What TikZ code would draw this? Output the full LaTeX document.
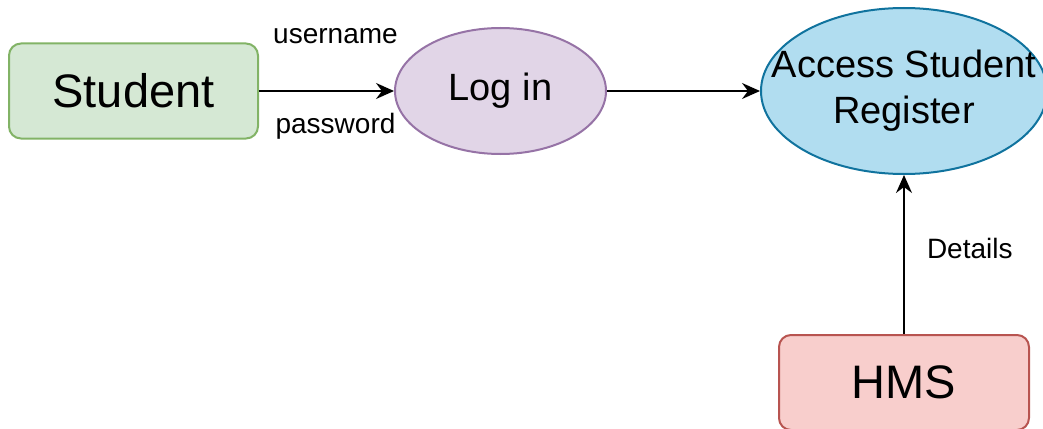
\documentclass[tikz,border=0pt]{standalone}
\usepackage{fontspec}
\setmainfont{Liberation Sans}
\usepackage{tikz}
\usetikzlibrary{arrows.meta, positioning, shapes.geometric}

\definecolor{studentfill}{HTML}{D5E8D4}
\definecolor{studentline}{HTML}{82B366}
\definecolor{loginfill}{HTML}{E1D5E7}
\definecolor{loginline}{HTML}{9673A6}
\definecolor{accessfill}{HTML}{B1DDF0}
\definecolor{accessline}{HTML}{10739E}
\definecolor{hmsfill}{HTML}{F8CECC}
\definecolor{hmsline}{HTML}{B85450}

\begin{document}
\begin{tikzpicture}[x=1pt, y=-1pt,
    entity/.style={draw, rectangle, rounded corners=12pt, line width=2pt, minimum width=249pt, minimum height=95pt, inner sep=0pt, font=\fontsize{47}{56}\selectfont},
    process/.style={draw, ellipse, line width=2pt, inner sep=0pt, font=\fontsize{38}{46}\selectfont},
    flowlabel/.style={inner sep=0pt, font=\fontsize{28}{34}\selectfont},
    flow/.style={-{Stealth[length=18pt, width=16pt, inset=6pt]}, line width=2pt}]
                \useasboundingbox (0,0) rectangle (1043,428);
                % Nodes
                \node (student) [entity, fill=studentfill, draw=studentline] at (133.5,91) {Student};
                \node (login) [process, fill=loginfill, draw=loginline, minimum width=211pt, minimum height=126pt, right=135pt of student] {Log in};
                \node (access) [process, fill=accessfill, draw=accessline, minimum width=286pt, minimum height=166pt, right=153pt of login,
                    label={[font=\fontsize{38}{46}\selectfont, align=center]center:Access Student\\Register}] {};
                \node (hms) [entity, fill=hmsfill, draw=hmsline, minimum width=250pt, below=159pt of access] {HMS};
                
                % Edges
                \draw[flow] (student) -- (login)
                    node[flowlabel, midway, above=46pt, xshift=9pt] {username}
                    node[flowlabel, midway, below=21pt, xshift=9pt] {password};
                \draw[flow] (login) -- (access);
                \draw[flow] (hms) -- (access) node[flowlabel, pos=0.54, right=22pt] {Details};
            \end{tikzpicture}
\end{document}
